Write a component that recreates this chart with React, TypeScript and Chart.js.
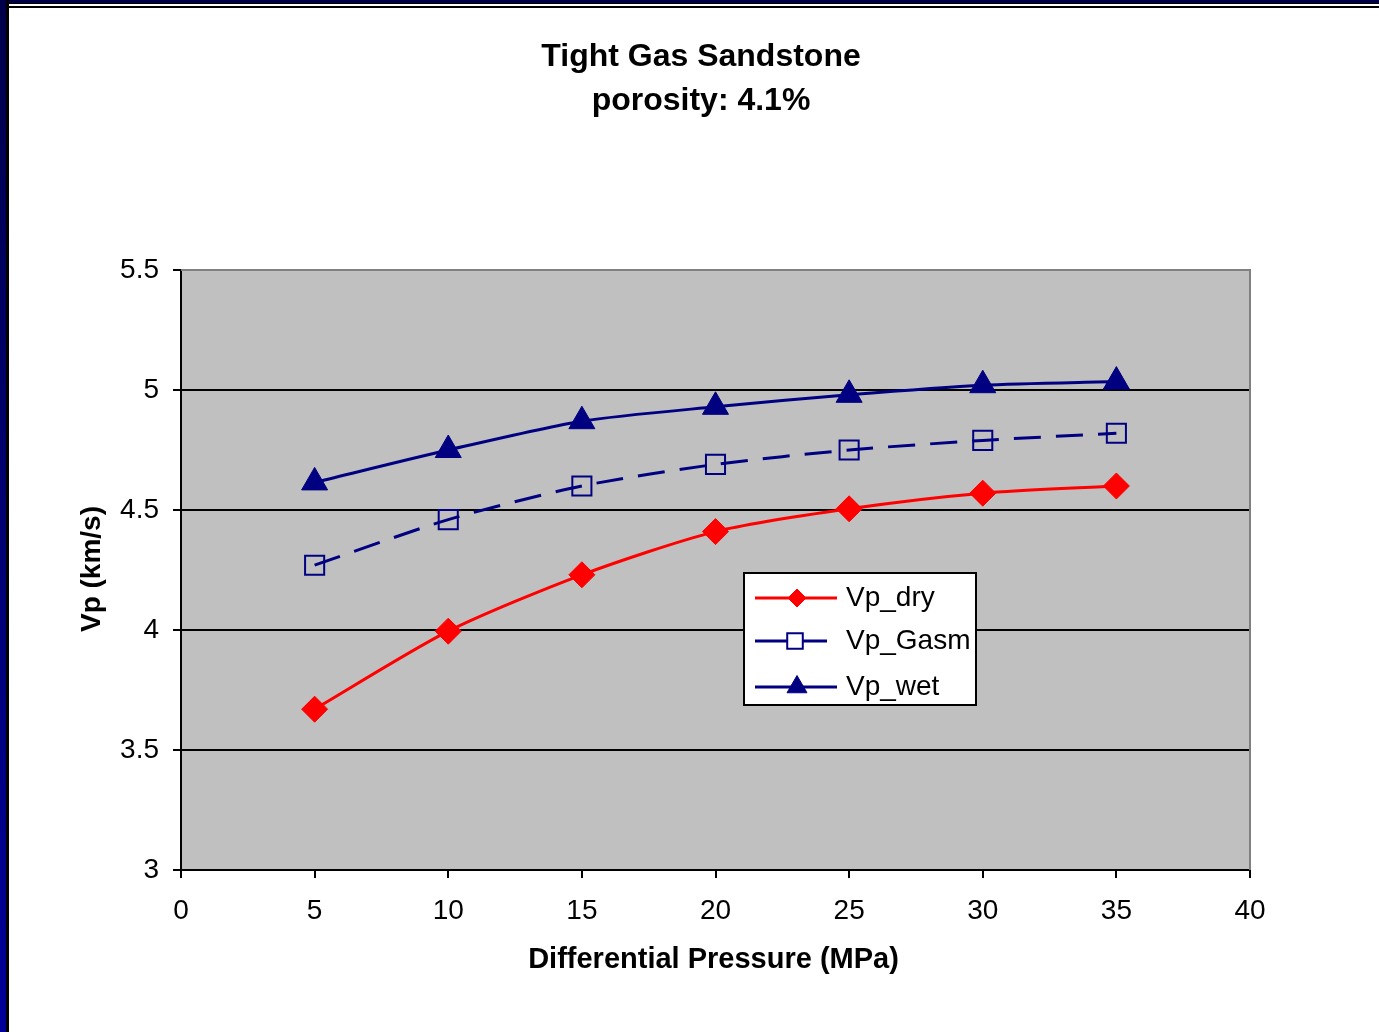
import React, { useEffect, useRef } from 'react';
import { Chart, registerables } from 'chart.js';

Chart.register(...registerables);

// Differential pressure (MPa) and P-wave velocities (km/s)
const pressure = [5, 10, 15, 20, 25, 30, 35];
const vpDry = [3.67, 3.995, 4.23, 4.41, 4.505, 4.57, 4.60];
const vpGasm = [4.27, 4.46, 4.60, 4.69, 4.75, 4.79, 4.82];
const vpWet = [4.615, 4.75, 4.87, 4.93, 4.98, 5.02, 5.035];

const seriesNames = ['Vp_dry', 'Vp_Gasm', 'Vp_wet'];
const titleLines = ['Tight Gas Sandstone', 'porosity: 4.1%'];
const xAxisTitle = 'Differential Pressure (MPa)';
const yAxisTitle = 'Vp (km/s)';
const gridValues = [3.5, 4, 4.5, 5];

const FONT = '"Liberation Sans", Arial, sans-serif';
const NAVY = '#000080';
const RED = '#FF0000';
const W = 1379;
const H = 1032;

type Pt = { x: number; y: number };
const toPoints = (ys: number[]): Pt[] => pressure.map((x, i) => ({ x, y: ys[i] }));

function drawMarker(
  ctx: CanvasRenderingContext2D,
  style: string,
  x: number,
  y: number,
  r: number,
  fill: string,
  stroke: string,
  lw: number
) {
  ctx.save();
  ctx.beginPath();
  if (style === 'rectRot') {
    ctx.moveTo(x, y - r);
    ctx.lineTo(x + r, y);
    ctx.lineTo(x, y + r);
    ctx.lineTo(x - r, y);
    ctx.closePath();
  } else if (style === 'rect') {
    const s = r * Math.SQRT1_2;
    ctx.rect(x - s, y - s, 2 * s, 2 * s);
  } else {
    const h = r * Math.sin(Math.PI / 3);
    ctx.moveTo(x, y - r);
    ctx.lineTo(x + h, y + r / 2);
    ctx.lineTo(x - h, y + r / 2);
    ctx.closePath();
  }
  ctx.fillStyle = fill;
  ctx.fill();
  ctx.lineWidth = lw;
  ctx.strokeStyle = stroke;
  ctx.stroke();
  ctx.restore();
}

// Page frame, plot background and the gray top/right plot edges
const framePlugin = {
  id: 'frame',
  beforeDraw(chart: any) {
    const { ctx, chartArea } = chart;
    ctx.save();
    ctx.fillStyle = '#FFFFFF';
    ctx.fillRect(0, 0, W, H);
    const grad = ctx.createLinearGradient(0, 0, 0, H);
    grad.addColorStop(0, '#00004A');
    grad.addColorStop(1, '#000099');
    ctx.fillStyle = grad;
    ctx.fillRect(0, 0, 6, H);
    ctx.fillStyle = '#00004A';
    ctx.fillRect(0, 0, W, 3);
    ctx.fillStyle = '#000000';
    ctx.fillRect(6, 0, 3, H);
    ctx.fillRect(6, 3, W - 6, 1);
    ctx.fillRect(9, 6, W - 9, 2);
    ctx.fillStyle = '#C0C0C0';
    ctx.fillRect(chartArea.left, chartArea.top, chartArea.right - chartArea.left, chartArea.bottom - chartArea.top);
    ctx.restore();
  },
  beforeDatasetsDraw(chart: any) {
    const { ctx, chartArea } = chart;
    ctx.save();
    ctx.strokeStyle = '#808080';
    ctx.lineWidth = 2;
    ctx.beginPath();
    ctx.moveTo(chartArea.left, chartArea.top);
    ctx.lineTo(chartArea.right, chartArea.top);
    ctx.lineTo(chartArea.right, chartArea.bottom);
    ctx.stroke();
    ctx.restore();
  },
};

// Title, axis titles and the boxed legend inside the plot
const textPlugin = {
  id: 'texts',
  afterDraw(chart: any) {
    const { ctx, chartArea } = chart;
    ctx.save();
    ctx.fillStyle = '#000000';
    ctx.textAlign = 'center';
    ctx.textBaseline = 'alphabetic';
    ctx.font = `bold 32px ${FONT}`;
    ctx.fillText(titleLines[0], 701, 66);
    ctx.fillText(titleLines[1], 701, 110);

    ctx.font = `bold 29px ${FONT}`;
    ctx.fillText(xAxisTitle, (chartArea.left + chartArea.right) / 2 - 2, 968);
    ctx.font = `bold 28px ${FONT}`;
    ctx.save();
    ctx.translate(100, 569);
    ctx.rotate(-Math.PI / 2);
    ctx.fillText(yAxisTitle, 0, 0);
    ctx.restore();

    // legend box
    const bx = 744, by = 573, bw = 232, bh = 132;
    ctx.fillStyle = '#FFFFFF';
    ctx.fillRect(bx, by, bw, bh);
    ctx.strokeStyle = '#000000';
    ctx.lineWidth = 2;
    ctx.strokeRect(bx, by, bw, bh);

    const rows = [598, 641, 687];
    const markerR = [9, 11, 11.5];
    chart.data.datasets.forEach((ds: any, i: number) => {
      const y = rows[i];
      const dashed = ds.borderDash && ds.borderDash.length;
      ctx.strokeStyle = ds.borderColor;
      ctx.lineWidth = 3;
      ctx.beginPath();
      if (dashed) {
        ctx.moveTo(755, y);
        ctx.lineTo(787, y);
        ctx.moveTo(803, y);
        ctx.lineTo(827, y);
      } else {
        ctx.moveTo(755, y);
        ctx.lineTo(837, y);
      }
      ctx.stroke();
      drawMarker(ctx, ds.pointStyle, dashed ? 795 : 797, y, markerR[i], ds.pointBackgroundColor, ds.pointBorderColor, ds.pointBorderWidth);
      ctx.fillStyle = '#000000';
      ctx.font = `28px ${FONT}`;
      ctx.textAlign = 'left';
      ctx.textBaseline = 'middle';
      ctx.fillText(ds.label, 846, y);
    });
    ctx.restore();
  },
};

export default function App() {
  const ref = useRef<HTMLCanvasElement | null>(null);

  useEffect(() => {
    if (!ref.current) return;
    const chart = new Chart(ref.current, {
      type: 'line',
      data: {
        datasets: [
          {
            label: seriesNames[0],
            data: toPoints(vpDry),
            borderColor: RED,
            borderWidth: 3,
            tension: 0.25,
            pointStyle: 'rectRot',
            pointRadius: 13,
            pointBackgroundColor: RED,
            pointBorderColor: RED,
            pointBorderWidth: 1,
          },
          {
            label: seriesNames[1],
            data: toPoints(vpGasm),
            borderColor: NAVY,
            borderWidth: 3,
            borderDash: [27, 15],
            tension: 0.25,
            pointStyle: 'rect',
            pointRadius: 13.5,
            pointBackgroundColor: 'rgba(0,0,0,0)',
            pointBorderColor: NAVY,
            pointBorderWidth: 2,
          },
          {
            label: seriesNames[2],
            data: toPoints(vpWet),
            borderColor: NAVY,
            borderWidth: 3,
            tension: 0.25,
            pointStyle: 'triangle',
            pointRadius: 15,
            pointBackgroundColor: NAVY,
            pointBorderColor: NAVY,
            pointBorderWidth: 1,
          },
        ] as any,
      },
      options: {
        responsive: false,
        animation: false,
        layout: { padding: { left: 0, top: 270, right: 129, bottom: 0 } },
        plugins: {
          legend: { display: false },
          title: { display: false },
          tooltip: { enabled: false },
        },
        scales: {
          x: {
            type: 'linear',
            min: 0,
            max: 40,
            afterFit: (s: any) => { s.height = H - 870; },
            ticks: {
              stepSize: 5,
              color: '#000000',
              padding: 16,
              font: { family: FONT, size: 28 },
            },
            grid: {
              drawOnChartArea: false,
              tickColor: '#000000',
              tickLength: 8,
              lineWidth: 2,
            },
            border: { display: true, color: '#000000', width: 2 },
          },
          y: {
            type: 'linear',
            min: 3,
            max: 5.5,
            afterFit: (s: any) => { s.width = 181; },
            ticks: {
              stepSize: 0.5,
              color: '#000000',
              padding: 14,
              font: { family: FONT, size: 28 },
              callback: (v: any) => String(Number(v)),
            },
            grid: {
              color: (c: any) => (gridValues.includes(c.tick?.value) ? '#000000' : 'rgba(0,0,0,0)'),
              tickColor: '#000000',
              tickLength: 8,
              lineWidth: 2,
            },
            border: { display: true, color: '#000000', width: 2 },
          },
        },
      },
      plugins: [framePlugin, textPlugin],
    });
    return () => chart.destroy();
  }, []);

  return (
    <div style={{ position: 'absolute', left: 0, top: 0, width: W, height: H }}>
      <canvas ref={ref} width={W} height={H} style={{ display: 'block', width: W, height: H }} />
    </div>
  );
}
